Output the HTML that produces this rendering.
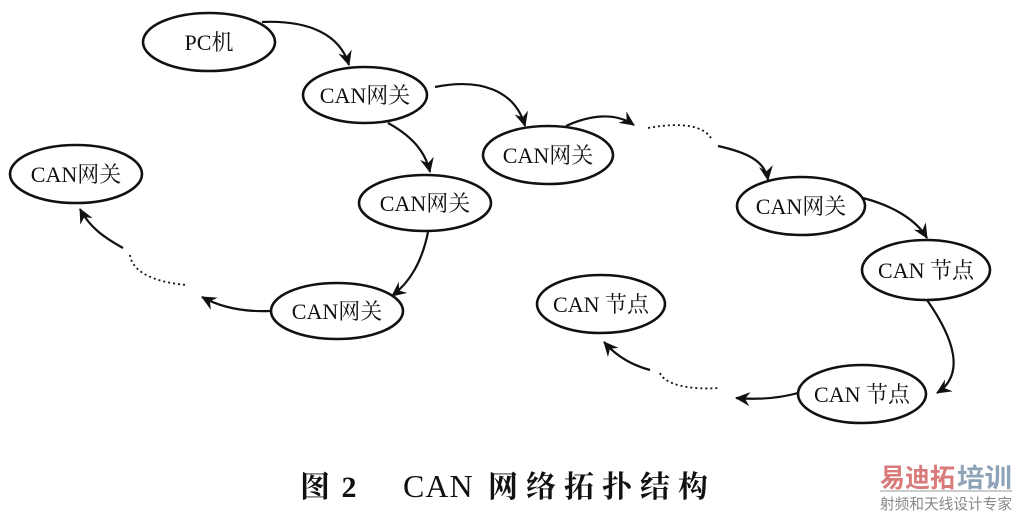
<!DOCTYPE html>
<html><head><meta charset="utf-8"><style>
html,body{margin:0;padding:0;background:#fff;}
svg{display:block;}
.t{font-family:"Liberation Serif","Noto Serif CJK SC",serif;font-size:22px;fill:#111;}
</style></head><body>
<svg width="1017" height="513" viewBox="0 0 1017 513" xmlns="http://www.w3.org/2000/svg">
<defs>
<marker id="a" markerWidth="18" markerHeight="18" refX="14" refY="7" orient="auto" markerUnits="userSpaceOnUse">
<path d="M0,0 L15,7 L0,14 L5,7 Z" fill="#111"/>
</marker>
</defs>
<g fill="none" stroke="#111" stroke-width="2.6">
<ellipse cx="209" cy="42" rx="66" ry="29"/>
<ellipse cx="365" cy="95" rx="62" ry="28"/>
<ellipse cx="76" cy="174" rx="66" ry="29"/>
<ellipse cx="425" cy="203" rx="66" ry="28"/>
<ellipse cx="337" cy="311" rx="66" ry="28"/>
<ellipse cx="548" cy="155" rx="65" ry="29"/>
<ellipse cx="801" cy="206" rx="64" ry="29"/>
<ellipse cx="926" cy="270" rx="64" ry="30"/>
<ellipse cx="601" cy="304" rx="64" ry="29"/>
<ellipse cx="862" cy="394" rx="64" ry="29"/>
</g>
<g fill="none" stroke="#111" stroke-width="2.2">
<path d="M262,22 C310,20 340,35 349,65" marker-end="url(#a)"/>
<path d="M435,87 C480,78 515,90 525,126" marker-end="url(#a)"/>
<path d="M388,123 C410,135 425,150 430,172" marker-end="url(#a)"/>
<path d="M428,232 C422,262 410,282 392,296" marker-end="url(#a)"/>
<path d="M270,311 C245,312 222,308 202,297" marker-end="url(#a)"/>
<path d="M123,248 C105,238 90,228 80,209" marker-end="url(#a)"/>
<path d="M566,126 C590,115 615,112 634,125" marker-end="url(#a)"/>
<path d="M718,146 C745,152 765,160 768,180" marker-end="url(#a)"/>
<path d="M863,198 C890,205 915,218 927,238" marker-end="url(#a)"/>
<path d="M927,300 C955,340 965,375 937,393" marker-end="url(#a)"/>
<path d="M798,393 C780,398 760,400 736,398" marker-end="url(#a)"/>
<path d="M650,370 C635,366 618,358 604,342" marker-end="url(#a)"/>
</g>
<g fill="none" stroke="#111" stroke-width="1.8" stroke-dasharray="2,3">
<path d="M130,255 C132,270 150,282 187,285"/>
<path d="M648,128 C680,122 705,125 712,140"/>
<path d="M660,373 C665,385 690,390 720,388"/>
</g>
<g class="t" text-anchor="middle">
<text x="209" y="50">PC机</text>
<text x="365" y="103">CAN网关</text>
<text x="76" y="182">CAN网关</text>
<text x="425" y="211">CAN网关</text>
<text x="337" y="319">CAN网关</text>
<text x="548" y="163">CAN网关</text>
<text x="801" y="214">CAN网关</text>
<text x="926" y="278">CAN 节点</text>
<text x="601" y="312">CAN 节点</text>
<text x="862" y="402">CAN 节点</text>
</g>
<text x="300" y="497" font-family="Liberation Serif,'Noto Serif CJK SC',serif" font-size="30" font-weight="bold" fill="#111" letter-spacing="2">图 2</text>
<text x="403" y="497" font-family="Liberation Serif,'Noto Serif CJK SC',serif" font-size="32" fill="#111" letter-spacing="1">CAN</text>
<text x="488" y="497" font-family="'Noto Serif CJK SC',serif" font-size="30" font-weight="bold" fill="#111" letter-spacing="8">网络拓扑结构</text>
<text x="880" y="487" font-family="'Noto Sans CJK SC',sans-serif" font-size="26" font-weight="bold" fill="#d97b7b" textLength="75" lengthAdjust="spacingAndGlyphs">易迪拓</text>
<text x="957" y="487" font-family="'Noto Sans CJK SC',sans-serif" font-size="26" font-weight="bold" fill="#8fa3b8" textLength="55" lengthAdjust="spacingAndGlyphs">培训</text>
<rect x="880" y="490" width="132" height="2" fill="#cccccc"/>
<text x="880" y="509" font-family="'Noto Sans CJK SC',sans-serif" font-size="15" fill="#888" textLength="132" lengthAdjust="spacingAndGlyphs">射频和天线设计专家</text>
</svg>
</body></html>
